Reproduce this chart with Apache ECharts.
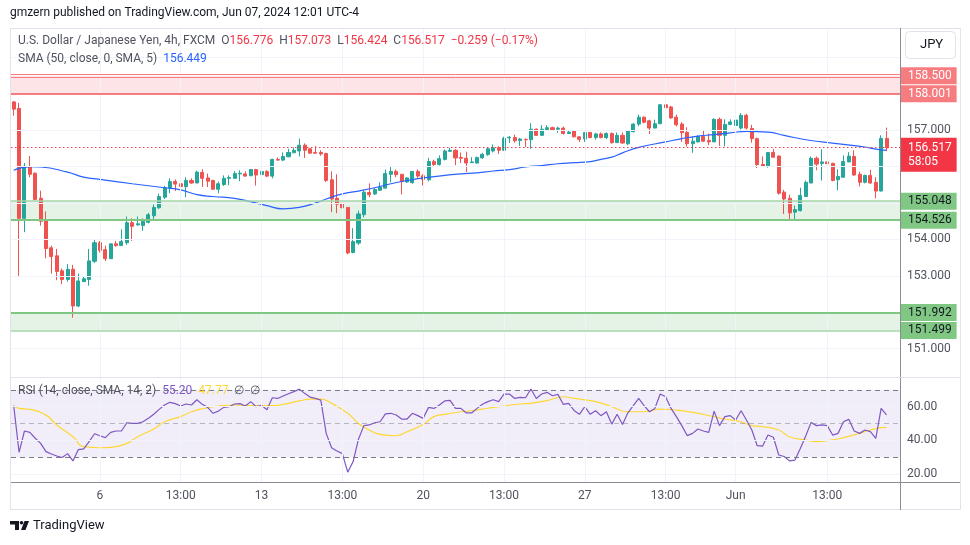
<!DOCTYPE html>
<html><head><meta charset="utf-8">
<script src="https://cdn.jsdelivr.net/npm/echarts@6.0.0/dist/echarts.min.js"></script>
<style>html,body{margin:0;padding:0;background:#fff}#c{width:970px;height:545px}</style>
</head><body><div id="c"></div>
<script>
// ---------- DATA ----------
const opens = [157.78,157.60,154.58,156.00,155.82,155.13,154.52,153.77,153.55,153.14,152.90,153.18,152.17,152.84,152.90,153.40,153.91,153.72,153.47,153.88,153.83,153.91,154.46,154.40,154.38,154.47,154.65,154.87,155.16,155.41,155.59,155.53,155.45,155.62,155.55,155.84,155.69,155.62,155.38,155.51,155.68,155.68,155.80,155.80,155.75,155.92,155.78,155.87,155.74,156.20,156.18,156.27,156.38,156.43,156.59,156.49,156.39,156.39,156.36,155.64,155.13,154.99,154.88,153.64,153.90,154.68,155.29,155.25,155.35,155.41,155.79,155.87,155.79,155.58,155.56,155.87,155.75,155.64,156.14,156.06,156.20,156.42,156.45,156.25,156.23,156.11,156.10,156.24,156.33,156.43,156.52,156.45,156.79,156.80,156.72,156.75,156.74,157.03,156.86,157.02,157.07,157.03,157.06,156.91,156.99,156.82,156.76,156.94,156.80,156.90,156.80,156.91,156.66,156.86,156.63,156.96,157.17,157.36,157.26,157.06,157.18,157.70,157.64,157.36,157.17,156.94,156.63,156.68,156.83,156.72,156.68,157.30,156.86,157.16,157.13,157.06,157.41,157.05,156.77,156.06,156.01,156.39,156.29,155.30,155.13,154.75,154.79,155.18,155.55,156.23,156.09,156.13,156.09,155.64,155.71,156.13,156.28,155.79,155.57,155.76,155.57,155.33,156.776];
const highs = [157.80,157.75,156.10,156.29,155.84,155.34,154.77,153.83,153.74,153.20,153.32,153.30,153.06,152.97,153.74,153.99,153.96,153.83,153.88,153.96,154.28,154.63,154.58,154.63,154.58,154.73,154.96,155.26,155.47,155.68,155.65,155.65,155.71,155.68,155.89,155.93,155.81,155.64,155.59,155.76,155.76,155.88,155.90,155.87,155.93,155.94,155.91,155.90,156.22,156.25,156.39,156.49,156.53,156.77,156.64,156.51,156.56,156.45,156.38,155.87,155.79,155.02,154.88,154.31,154.79,155.34,155.54,155.41,155.57,155.92,155.99,155.92,155.79,155.71,155.87,155.92,155.79,156.24,156.19,156.31,156.47,156.52,156.48,156.39,156.41,156.26,156.28,156.38,156.54,156.61,156.56,156.82,156.84,156.88,156.79,156.77,157.19,157.05,157.14,157.14,157.10,157.10,157.10,156.99,157.00,156.83,156.95,156.94,156.93,156.94,156.94,156.94,156.94,156.94,157.00,157.19,157.43,157.38,157.29,157.29,157.72,157.72,157.67,157.43,157.22,157.08,156.83,156.86,157.00,156.91,157.33,157.35,157.30,157.30,157.33,157.47,157.45,157.15,156.80,156.28,156.39,156.49,156.31,155.36,155.23,154.93,155.42,155.62,156.28,156.28,156.48,156.15,156.11,155.93,156.31,156.40,156.45,155.86,155.78,155.91,155.71,156.86,157.073];
const lows = [157.40,153.00,154.20,155.71,155.08,154.38,153.48,153.06,152.88,152.77,152.84,151.85,152.14,152.83,152.73,153.35,153.64,153.41,153.47,153.80,153.83,153.85,153.96,154.38,154.24,154.44,154.53,154.84,155.11,155.27,155.33,155.44,155.16,155.53,155.55,155.44,155.44,155.36,155.27,155.47,155.49,155.67,155.60,155.73,155.74,155.48,155.77,155.71,155.68,156.17,156.15,156.26,156.38,156.28,156.24,156.37,156.37,156.30,155.58,154.75,154.72,154.70,153.59,153.62,153.85,154.61,155.16,155.22,155.34,155.41,155.57,155.71,155.24,155.55,155.53,155.69,155.48,155.60,155.99,156.03,156.17,156.42,156.04,156.10,155.85,156.10,156.08,156.22,156.30,156.39,156.35,156.45,156.65,156.66,156.57,156.54,156.49,156.84,156.84,157.00,156.99,156.93,156.88,156.90,156.80,156.68,156.68,156.78,156.74,156.78,156.76,156.63,156.65,156.63,156.59,156.94,157.11,157.19,156.90,157.06,157.17,157.61,157.31,157.11,156.68,156.55,156.38,156.67,156.68,156.59,156.68,156.57,156.56,157.14,157.04,157.02,157.02,156.66,155.96,156.01,155.97,156.25,155.23,154.70,154.52,154.54,154.77,155.18,155.55,155.90,155.62,156.06,155.60,155.35,155.69,156.13,155.75,155.46,155.54,155.53,155.13,155.32,156.424];
const closes = [157.58,154.58,156.01,155.79,155.10,154.50,153.75,153.53,153.12,152.90,153.18,152.17,152.86,152.92,153.41,153.91,153.70,153.47,153.88,153.83,153.94,154.46,154.36,154.43,154.50,154.68,154.88,155.18,155.42,155.59,155.52,155.45,155.62,155.55,155.85,155.68,155.60,155.38,155.53,155.68,155.70,155.81,155.82,155.74,155.92,155.77,155.87,155.74,156.20,156.18,156.28,156.39,156.45,156.59,156.45,156.37,156.37,156.35,155.62,155.11,154.97,154.87,153.63,153.94,154.70,155.30,155.23,155.37,155.44,155.81,155.87,155.78,155.59,155.69,155.87,155.74,155.65,156.14,156.06,156.22,156.43,156.45,156.24,156.23,156.10,156.13,156.25,156.34,156.49,156.52,156.45,156.78,156.81,156.71,156.76,156.74,157.03,156.86,157.03,157.07,157.01,157.06,156.91,156.95,156.82,156.75,156.94,156.80,156.90,156.80,156.91,156.66,156.86,156.65,156.98,157.17,157.36,157.22,157.06,157.18,157.70,157.62,157.34,157.15,156.93,156.63,156.70,156.83,156.70,156.68,157.30,156.86,157.16,157.23,157.28,157.41,157.06,156.77,156.06,156.01,156.39,156.26,155.27,155.11,154.73,154.82,155.21,155.57,156.23,156.07,156.13,156.08,155.62,155.73,156.14,156.29,155.77,155.57,155.76,155.55,155.33,156.776,156.517];
const smaPoints = [[0,155.90],[3,156.00],[5,155.99],[10,155.85],[13,155.71],[16,155.65],[22,155.53],[28,155.42],[31,155.36],[34,155.23],[37,155.18],[41,155.13],[44,155.04],[47,154.93],[50,154.84],[53,154.88],[56,155.00],[58,155.11],[61,155.25],[64,155.33],[67,155.42],[70,155.53],[73,155.62],[76,155.69],[80,155.76],[83,155.80],[86,155.83],[89,155.88],[92,155.92],[95,155.99],[98,156.03],[101,156.08],[104,156.11],[107,156.14],[109,156.20],[111,156.26],[113,156.38],[116,156.53],[121,156.68],[124,156.77],[127,156.84],[130,156.88],[133,156.93],[136,156.97],[140,156.95],[143,156.86],[147,156.74],[150,156.68],[154,156.61],[158,156.54],[160,156.48],[162,156.449]];
const rsiValues = [60.6,33.0,45.6,44.8,41.3,38.3,33.4,32.0,30.8,29.9,32.2,27.9,34.6,35.0,39.3,44.0,42.8,41.7,44.8,45.6,45.6,50.5,50.1,50.1,51.1,53.1,55.5,58.4,61.0,62.6,61.8,60.4,61.6,61.0,64.1,61.4,59.6,56.1,57.4,59.6,60.0,61.6,61.8,60.4,63.0,60.0,60.8,58.2,65.3,64.9,66.3,67.7,68.9,70.4,67.9,65.7,64.9,63.9,44.2,35.7,33.8,32.2,21.2,27.5,40.9,48.8,49.2,50.5,51.1,55.7,56.1,55.1,52.7,52.7,56.1,54.7,53.1,59.6,59.0,61.0,63.4,63.7,59.0,59.0,56.3,56.3,59.0,61.4,63.0,64.1,63.0,67.5,67.5,64.9,65.5,65.3,70.5,64.9,67.5,68.5,66.5,67.3,61.4,62.0,57.8,55.5,60.0,55.5,57.6,54.7,57.0,49.7,55.5,49.5,56.4,60.6,64.9,60.6,57.0,59.0,67.5,65.9,59.0,54.1,48.8,42.9,44.2,46.8,45.6,44.8,57.4,48.8,54.1,54.7,52.1,57.6,52.1,46.2,36.9,36.7,43.2,41.9,31.4,30.5,27.9,28.4,35.3,42.6,50.7,48.8,49.2,48.8,43.2,44.2,51.1,52.5,45.6,44.2,46.2,45.2,41.3,59.0,55.2];
const rsiMaPoints = [[0,60.6],[1,59.0],[3,58.4],[6,55.0],[8,49.2],[11,42.2],[13,36.3],[16,35.7],[18,35.9],[21,38.3],[23,42.2],[26,46.8],[28,51.1],[31,54.1],[33,57.0],[36,59.4],[38,60.4],[41,61.0],[43,60.8],[46,60.6],[48,60.6],[50,61.4],[53,63.4],[55,64.5],[57,64.5],[59,62.0],[62,56.1],[64,50.1],[66,46.2],[68,43.6],[71,42.8],[73,45.2],[76,49.5],[78,54.1],[80,55.5],[83,57.0],[85,57.6],[87,58.6],[90,60.0],[94,61.6],[96,62.0],[99,63.6],[102,65.9],[104,64.9],[108,63.0],[111,60.0],[114,57.0],[117,57.0],[120,58.6],[123,58.0],[126,56.6],[130,54.1],[132,52.7],[135,51.1],[137,48.8],[139,48.2],[142,46.2],[144,42.2],[147,40.3],[149,39.3],[152,40.3],[154,41.7],[157,44.2],[159,46.2],[161,47.6],[162,47.77]];
const redZone = [158.001, 158.500];
const greenZones = [[154.526, 155.048], [151.499, 151.992]];
const lastPrice = 156.517;
const priceGridLevels = [151,152,153,154,155,156,157,158,159];
const priceTickLabels = ['157.000','154.000','153.000','151.000'];
const rsiGridLevels = [20,40,60];
const rsiTickLabels = ['20.00','40.00','60.00'];
const xTickCats = ['05-06 01:00','05-08 13:00','05-13 01:00','05-15 13:00','05-20 01:00','05-22 13:00','05-27 01:00','05-29 13:00','06-02 17:00','06-05 13:00'];
const xTickText = ['6','13:00','13','13:00','20','13:00','27','13:00','Jun','13:00'];

// ---------- CATEGORIES (4h FX sessions, UTC-4) ----------
function pad(n){return (n<10?'0':'')+n;}
function buildCategories(n){
  const out=[]; let t=Date.UTC(2024,4,1,9);
  while(out.length<n){
    const d=new Date(t), wd=d.getUTCDay(), h=d.getUTCHours();
    const closed = wd===6 || (wd===5 && h>=17) || (wd===0 && h<17);
    if(!closed) out.push(pad(d.getUTCMonth()+1)+'-'+pad(d.getUTCDate())+' '+pad(h)+':00');
    t+=4*3600*1000;
  }
  return out;
}
const categories = buildCategories(closes.length + 2);
const tickMap = {}; xTickCats.forEach((c,i)=>tickMap[c]=xTickText[i]);

const UP='#26a69a', DOWN='#ef5350', GRID='#f0f3fa', FONT='Roboto, "Noto Sans", sans-serif';
const candles = opens.map((o,i)=>[o, closes[i], lows[i], highs[i]]);

function fmt3(v){return v.toFixed(3);}
function axisBox(val, bg, fg){
  return {yAxis: val, lineStyle:{color:'rgba(0,0,0,0)', width:0.01, type:'solid'}, label:{show:true, position:'end', distance:1, formatter: fmt3(val),
    backgroundColor:bg, color:fg, padding:[2,5,2,7], fontSize:12, fontFamily:FONT, lineHeight:13}};
}
const vGrid = xTickCats.map(c=>({xAxis:c, lineStyle:{color:GRID,width:1,type:'solid'}, label:{show:false}}));

const priceMarkLines = [].concat(
  vGrid,
  priceGridLevels.map(v=>{
    const lbl = priceTickLabels.indexOf(fmt3(v))>=0;
    return {yAxis:v, lineStyle:{color:GRID,width:1,type:'solid'},
      label:{show:lbl, position:'end', distance:7, formatter:fmt3(v), color:'#50535e', fontSize:12, fontFamily:FONT}};
  }),
  [
    {yAxis:redZone[1]+0.03, lineStyle:{color:'#f77c80',width:1,type:'solid'}, label:{show:false}},
    {yAxis:redZone[1]-0.035, lineStyle:{color:'#f77c80',width:1,type:'solid'}, label:{show:false}},
    {yAxis:redZone[0], lineStyle:{color:'#f77c80',width:2,type:'solid'}, label:{show:false}},
    {yAxis:greenZones[0][1], lineStyle:{color:'#a5d6a7',width:1.5,type:'solid'}, label:{show:false}},
    {yAxis:greenZones[0][0], lineStyle:{color:'#81c784',width:2,type:'solid'}, label:{show:false}},
    {yAxis:greenZones[1][1], lineStyle:{color:'#81c784',width:2,type:'solid'}, label:{show:false}},
    {yAxis:greenZones[1][0], lineStyle:{color:'#a5d6a7',width:1.5,type:'solid'}, label:{show:false}},
    axisBox(redZone[1], '#f77c80', '#ffffff'),
    axisBox(redZone[0], '#f77c80', '#ffffff'),
    axisBox(greenZones[0][1], '#81c784', '#131722'),
    axisBox(greenZones[0][0], '#81c784', '#131722'),
    axisBox(greenZones[1][1], '#81c784', '#131722'),
    axisBox(greenZones[1][0], '#81c784', '#131722'),
    {yAxis:lastPrice, lineStyle:{color:'#f23645',width:1,type:[1.5,2.5]},
      label:{show:true, position:'end', distance:1, offset:[0,7], formatter: fmt3(lastPrice)+'\n58:05', backgroundColor:'#f23645',
        color:'#fff', padding:[3,5,3,7], fontSize:12, fontFamily:FONT, lineHeight:14}}
  ]
);

const rsiMarkLines = [].concat(
  vGrid,
  rsiGridLevels.map((v,i)=>({yAxis:v, lineStyle:{color:GRID,width:1,type:'solid'},
    label:{show:true, position:'end', distance:7, formatter:rsiTickLabels[i], color:'#50535e', fontSize:12, fontFamily:FONT}})),
  [
    {yAxis:70, lineStyle:{color:'#787b86',width:1,type:[5,4]}, label:{show:false}},
    {yAxis:30, lineStyle:{color:'#787b86',width:1,type:[5,4]}, label:{show:false}},
    {yAxis:50, lineStyle:{color:'rgba(120,123,134,0.5)',width:1,type:[5,4]}, label:{show:false}}
  ]
);

const chart = echarts.init(document.getElementById('c'), null, {renderer:'canvas'});
chart.setOption({
  animation:false,
  backgroundColor:'#ffffff',
  textStyle:{fontFamily:FONT},
  grid:[
    {left:11, right:70, top:28, height:349},
    {left:11, right:70, top:378, height:104}
  ],
  xAxis:[
    {type:'category', gridIndex:0, data:categories, boundaryGap:true, axisLine:{show:false}, axisTick:{show:false}, axisLabel:{show:false}, splitLine:{show:false}},
    {type:'category', gridIndex:1, data:categories, boundaryGap:true, axisLine:{show:false}, axisTick:{show:false},
      axisLabel:{show:true, interval:(i,v)=>tickMap[v]!==undefined, formatter:v=>tickMap[v]||'', color:'#50535e', fontSize:12, fontFamily:FONT, margin:8},
      splitLine:{show:false}}
  ],
  yAxis:[
    {type:'value', gridIndex:0, position:'right', min:150.22, max:159.81, scale:true, axisLine:{show:false}, axisTick:{show:false}, axisLabel:{show:false}, splitLine:{show:false}},
    {type:'value', gridIndex:1, position:'right', min:15.4, max:77.0, scale:true, axisLine:{show:false}, axisTick:{show:false}, axisLabel:{show:false}, splitLine:{show:false}}
  ],
  series:[
    {type:'candlestick', xAxisIndex:0, yAxisIndex:0, data:candles, barWidth:'66%',
      itemStyle:{color:UP, color0:DOWN, borderColor:UP, borderColor0:DOWN, borderWidth:1},
      markArea:{silent:true, data:[
        [{yAxis:redZone[0], itemStyle:{color:'rgba(242,54,69,0.13)'}},{yAxis:redZone[1]}],
        [{yAxis:greenZones[0][0], itemStyle:{color:'rgba(76,175,80,0.15)'}},{yAxis:greenZones[0][1]}],
        [{yAxis:greenZones[1][0], itemStyle:{color:'rgba(76,175,80,0.15)'}},{yAxis:greenZones[1][1]}]
      ]},
      markLine:{silent:true, symbol:['none','none'], animation:false, data:priceMarkLines},
      z:3
    },
    {type:'line', xAxisIndex:0, yAxisIndex:0, data:smaPoints, smooth:true, showSymbol:false, symbol:'none',
      lineStyle:{color:'#2962ff', width:1.2}, z:4},
    {type:'line', xAxisIndex:1, yAxisIndex:1, data:rsiValues, showSymbol:false, symbol:'none',
      lineStyle:{color:'#7e57c2', width:1.2}, z:4,
      markArea:{silent:true, data:[[{yAxis:30, itemStyle:{color:'rgba(126,87,194,0.1)'}},{yAxis:70}]]},
      markLine:{silent:true, symbol:['none','none'], animation:false, data:rsiMarkLines}
    },
    {type:'line', xAxisIndex:1, yAxisIndex:1, data:rsiMaPoints, smooth:true, showSymbol:false, symbol:'none',
      lineStyle:{color:'#fdd835', width:1.2}, z:3}
  ],
  graphic:[
    {type:'rect', shape:{x:10.5,y:28.5,width:950,height:481}, style:{fill:'none', stroke:'#e0e3eb', lineWidth:1}, z:100, silent:true},
    {type:'line', shape:{x1:900.5,y1:28,x2:900.5,y2:510}, style:{stroke:'#8a8d96', lineWidth:1}, z:100, silent:true},
    {type:'line', shape:{x1:11,y1:377.5,x2:960,y2:377.5}, style:{stroke:'#e0e3eb', lineWidth:1}, z:100, silent:true},
    {type:'line', shape:{x1:11,y1:482.5,x2:960,y2:482.5}, style:{stroke:'#8a8d96', lineWidth:1}, z:100, silent:true},
    {type:'text', left:10, top:7, style:{text:'gmzern published on TradingView.com, Jun 07, 2024 12:01 UTC-4', fill:'#131722', font:'12px '+FONT}, z:100},
    {type:'text', left:18, top:35, z:100, style:{
      text:'{g|U.S. Dollar / Japanese Yen, 4h, FXCM}  {g|O}{r|156.776}  {g|H}{r|157.073}  {g|L}{r|156.424}  {g|C}{r|156.517}  {r|\u22120.259 (\u22120.17%)}',
      font:'12px '+FONT, rich:{g:{fill:'#50535e', font:'12px '+FONT}, r:{fill:'#f23645', font:'12px '+FONT}}}},
    {type:'text', left:18, top:53, z:100, style:{
      text:'{g|SMA (50, close, 0, SMA, 5)}  {b|156.449}',
      font:'12px '+FONT, rich:{g:{fill:'#50535e', font:'12px '+FONT}, b:{fill:'#2962ff', font:'12px '+FONT}}}},
    {type:'text', left:18, top:385, z:100, style:{
      text:'{g|RSI (14, close, SMA, 14, 2)}  {p|55.20}  {y|47.77}  {g|\u2205  \u2205}',
      font:'12px '+FONT, rich:{g:{fill:'#50535e', font:'12px '+FONT}, p:{fill:'#7e57c2', font:'12px '+FONT}, y:{fill:'#fdd835', font:'12px '+FONT}}}},
    {type:'rect', shape:{x:905.5,y:31.5,width:50,height:27,r:4}, style:{fill:'#fff', stroke:'#e0e3eb', lineWidth:1}, z:101},
    {type:'text', left:920, top:38, z:102, style:{text:'JPY', fill:'#131722', font:'13px '+FONT}},
    {type:'polygon', shape:{points:[[10,521],[19,521],[19,530],[15,530],[15,524.5],[10,524.5]]}, style:{fill:'#131722'}, z:100},
    {type:'circle', shape:{cx:21.5,cy:522.8,r:1.8}, style:{fill:'#131722'}, z:100},
    {type:'polygon', shape:{points:[[24.5,521],[29,521],[25.5,530],[21,530]]}, style:{fill:'#131722'}, z:100},
    {type:'text', left:33, top:519, z:100, style:{text:'TradingView', fill:'#131722', font:'13px '+FONT}}
  ]
});
</script></body></html>
